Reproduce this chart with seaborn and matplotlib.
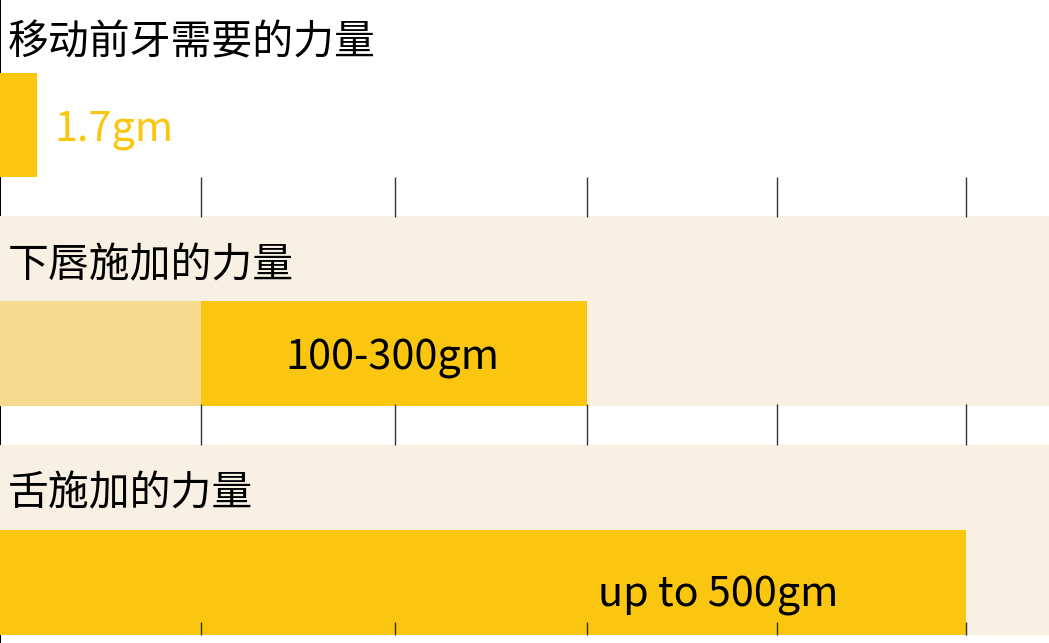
import seaborn as sns
import matplotlib.pyplot as plt
import matplotlib.transforms as mtransforms
import numpy as np
import pandas as pd

titles = ["移动前牙需要的力量", "下唇施加的力量", "舌施加的力量"]
force_max = [1.7, 300, 500]
force_min = [None, 100, None]   # lower end of the lip range
labels = ["1.7gm", "100-300gm", "up to 500gm"]
ticks = [100, 200, 300, 400, 500]

YELLOW = "#FAC60F"
LIGHT = "#F5DA8F"
BAND = "#F8F0E2"

sns.set_theme(style="white")
plt.rcParams["font.family"] = ["Noto Sans CJK SC", "DejaVu Sans"]

fig = plt.figure(figsize=(10.49, 6.43), dpi=100)
ax = fig.add_axes([0, 0, 1, 1])

# 1.7gm would be a hairline, so bars get a minimum drawn width
shown = [max(v, 17.5) for v in force_max]
df = pd.DataFrame({"panel": titles, "force": shown})
sns.barplot(data=df, x="force", y="panel", order=titles, orient="h",
            color=YELLOW, saturation=1, width=0.457, errorbar=None,
            ax=ax, zorder=3, linewidth=0)

lo = pd.DataFrame({"panel": [titles[1]], "force": [force_min[1]]})
sns.barplot(data=lo, x="force", y="panel", order=titles, orient="h",
            color=LIGHT, saturation=1, width=0.457, errorbar=None,
            ax=ax, zorder=4, linewidth=0)

# beige bands behind the 2nd and 3rd panel
for i in [1, 2]:
    ax.axhspan(i - 0.6, i + 0.23, color=BAND, lw=0, zorder=1)

# tick marks in the gaps between panels
for y0, y1 in [(0.228, 0.402), (1.22, 1.399), (2.173, 2.229)]:
    ax.vlines(ticks, y0, y1, color="#333333", lw=1, zorder=5)

p = 0.975
ax.set_xscale("function", functions=(lambda x: np.sign(x) * np.abs(x) ** p,
                                     lambda x: np.sign(x) * np.abs(x) ** (1 / p)))
ax.set_xlim(0, 544)
ax.set_ylim(2.264, -0.546)

blend = mtransforms.blended_transform_factory(ax.transAxes, ax.transData)
title_y = [-0.36, -0.385, -0.39]
for i, t in enumerate(titles):
    ax.text(0.0076, i + title_y[i], t, transform=blend, fontsize=29.4,
            va="center", ha="left", color="black", zorder=6)

label_x = [shown[0], (force_min[1] + force_max[1]) / 2, 300]
label_ha = ["left", "center", "left"]
label_dx = [13, -2, 8]
label_dy = [0, 0, 0.035]
label_col = [YELLOW, "black", "black"]
for i, lab in enumerate(labels):
    ax.annotate(lab, (label_x[i], i + label_dy[i]), xytext=(label_dx[i], 0),
                textcoords="offset points", ha=label_ha[i], va="center_baseline",
                fontsize=29.8, color=label_col[i], zorder=6)

ax.set_xticks([])
ax.set_yticks([])
ax.set_xlabel("")
ax.set_ylabel("")
for s in ["top", "right", "bottom"]:
    ax.spines[s].set_visible(False)
ax.spines["left"].set_color("black")
ax.spines["left"].set_linewidth(1.5)
ax.spines["left"].set_zorder(0.5)

plt.savefig("out.png", dpi=100)
